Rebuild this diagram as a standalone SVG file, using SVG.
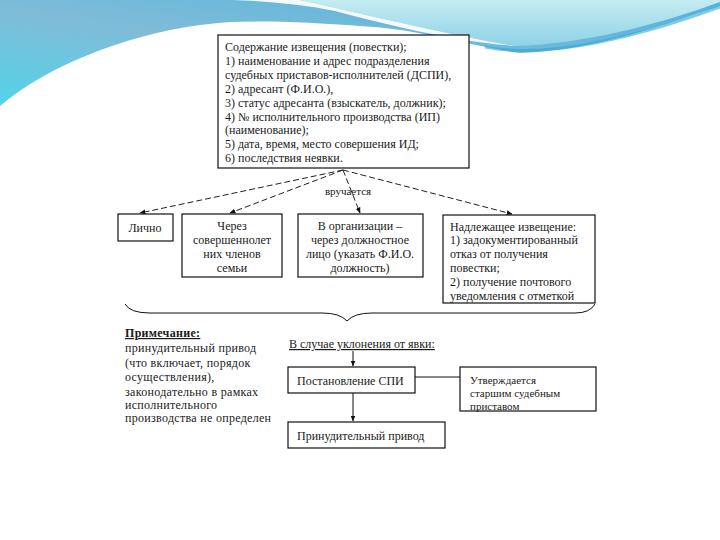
<svg xmlns="http://www.w3.org/2000/svg" width="720" height="540" viewBox="0 0 720 540">
<defs>
<linearGradient id="gBlue" x1="0" y1="1" x2="1" y2="0" gradientUnits="objectBoundingBox">
<stop offset="0" stop-color="#52d3e8"/>
<stop offset="0.45" stop-color="#80bcd8"/>
<stop offset="1" stop-color="#4fb3de"/>
</linearGradient>
<linearGradient id="gLight" x1="0" y1="0" x2="0" y2="1">
<stop offset="0" stop-color="#c4ecf1"/>
<stop offset="1" stop-color="#8fd2e8"/>
</linearGradient>
<marker id="ah" viewBox="0 0 10 10" refX="9" refY="5" markerWidth="6" markerHeight="6" orient="auto">
<path d="M0,1 L10,5 L0,9 Z" fill="#111"/>
</marker>
<style>
.t{font-family:"Liberation Serif","Times New Roman",serif;font-size:12px;fill:#1a1a1a}
.sm{font-size:11px}
.n{letter-spacing:0.3px}
.c{text-anchor:middle}
.b{fill:#fff;stroke:#111;stroke-width:1.2}
.d{fill:none;stroke:#222;stroke-width:1;stroke-dasharray:6 3}
.s{fill:none;stroke:#111;stroke-width:1}
</style>
</defs>
<rect width="720" height="540" fill="#fff"/>
<g id="background">
<path d="M0,0 H720 V6 C670,22 600,50 520,53 C470,46 420,29 360,26 C300,22 245,19 200,25 C120,36 45,68 0,106 Z" fill="url(#gBlue)"/>
<path d="M300,0 C380,18 455,36 515,46 C585,44 660,24 720,2 V0 Z" fill="url(#gLight)"/>
<path d="M232,0 H300 C380,18 455,36 515,46 C450,41 385,24 335,11 C300,4 265,1 232,0 Z" fill="#fff" opacity="0.92"/>
<path d="M485,47 C520,54 560,50 600,42 C650,32 690,18 720,7" fill="none" stroke="#2fa6d6" stroke-width="3" opacity="0.6"/>
</g>
<g id="connectors">
<line class="d" x1="343" y1="170" x2="140" y2="213" marker-end="url(#ah)"/>
<line class="d" x1="343" y1="170" x2="230" y2="213" marker-end="url(#ah)"/>
<line class="d" x1="343" y1="170" x2="360" y2="213" marker-end="url(#ah)"/>
<line class="d" x1="343" y1="170" x2="512" y2="214" marker-end="url(#ah)"/>
<text class="t sm c" x="348" y="195">вручается</text>
<path class="s" d="M125,304 Q130,313 150,313 L322,313 Q340,313 347,321 Q354,313 372,313 L575,313 Q590,313 595,304"/>
<line class="s" x1="353" y1="351" x2="353" y2="366" marker-end="url(#ah)"/>
<line class="s" x1="353" y1="393" x2="353" y2="421" marker-end="url(#ah)"/>
<line class="s" x1="415" y1="377" x2="460" y2="377"/>
</g>
<g id="n-content">
<rect class="b" x="218" y="35" width="251" height="133"/>
<text class="t" x="225" y="51">Содержание извещения (повестки);</text>
<text class="t" x="225" y="65">1) наименование и адрес подразделения</text>
<text class="t" x="225" y="79">судебных приставов-исполнителей (ДСПИ),</text>
<text class="t" x="225" y="93">2) адресант (Ф.И.О.),</text>
<text class="t" x="225" y="107">3) статус адресанта (взыскатель, должник);</text>
<text class="t" x="225" y="121">4) № исполнительного производства (ИП)</text>
<text class="t" x="225" y="134">(наименование);</text>
<text class="t" x="225" y="148">5) дата, время, место совершения ИД;</text>
<text class="t" x="225" y="162">6) последствия неявки.</text>
</g>
<g id="n-personal">
<rect class="b" x="118" y="214" width="55" height="27"/>
<text class="t c" x="145" y="232">Лично</text>
</g>
<g id="n-family">
<rect class="b" x="182" y="214" width="100" height="63"/>
<text class="t c" x="232" y="230">Через</text>
<text class="t c" x="232" y="244">совершеннолет</text>
<text class="t c" x="232" y="258">них членов</text>
<text class="t c" x="232" y="272">семьи</text>
</g>
<g id="n-org">
<rect class="b" x="298" y="214" width="125" height="63"/>
<text class="t c" x="360" y="230">В организации –</text>
<text class="t c" x="360" y="244">через должностное</text>
<text class="t c" x="360" y="258">лицо (указать Ф.И.О.</text>
<text class="t c" x="360" y="272">должность)</text>
</g>
<g id="n-proper">
<rect class="b" x="443" y="215" width="152" height="88"/>
<text class="t" x="450" y="231">Надлежащее извещение:</text>
<text class="t" x="450" y="244">1) задокументированный</text>
<text class="t" x="450" y="258">отказ от получения</text>
<text class="t" x="450" y="272">повестки;</text>
<text class="t" x="450" y="286">2) получение почтового</text>
<text class="t" x="450" y="300">уведомления с отметкой</text>
</g>
<g id="n-note">
<text class="t n" x="125" y="337" font-weight="bold" text-decoration="underline">Примечание:</text>
<text class="t n" x="125" y="352">принудительный привод</text>
<text class="t n" x="125" y="367">(что включает, порядок</text>
<text class="t n" x="125" y="381">осуществления),</text>
<text class="t n" x="125" y="396">законодательно в рамках</text>
<text class="t n" x="125" y="409">исполнительного</text>
<text class="t n" x="125" y="422">производства не определен</text>
</g>
<g id="n-evasion">
<text class="t" x="289" y="348" text-decoration="underline">В случае уклонения от явки:</text>
</g>
<g id="n-decision">
<rect class="b" x="288" y="367" width="127" height="26"/>
<text class="t" x="297" y="385">Постановление СПИ</text>
</g>
<g id="n-approved">
<rect class="b" x="460" y="367" width="136" height="44"/>
<text class="t sm" x="470" y="384">Утверждается</text>
<text class="t sm" x="470" y="397">старшим судебным</text>
<text class="t sm" x="470" y="410">приставом</text>
</g>
<g id="n-drive">
<rect class="b" x="288" y="422" width="157" height="26"/>
<text class="t" x="297" y="440">Принудительный привод</text>
</g>
</svg>
